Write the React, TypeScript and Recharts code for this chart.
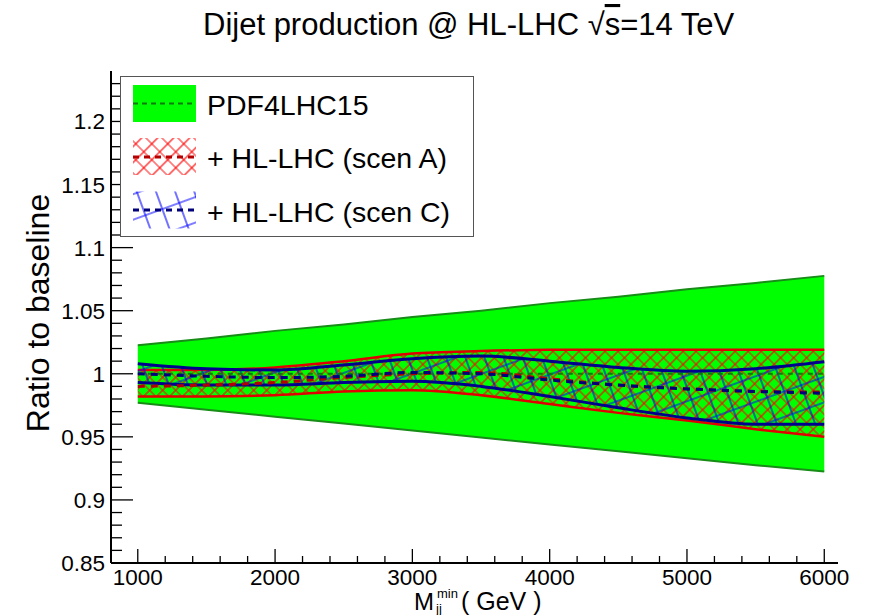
import React from 'react';
import { ComposedChart, Area, Line, XAxis, YAxis } from 'recharts';

// Dijet mass threshold (GeV)
const massPoints = [1000, 1500, 2000, 2500, 3000, 3500, 4000, 4500, 5000, 5500, 6000];
// PDF4LHC15 band
const pdfLow = [0.977, 0.9715, 0.966, 0.9605, 0.955, 0.9495, 0.944, 0.9385, 0.933, 0.9275, 0.9225];
const pdfHigh = [1.0227, 1.028, 1.034, 1.039, 1.045, 1.050, 1.056, 1.061, 1.067, 1.072, 1.0776];
const pdfCentral = [1, 1, 1, 1, 1, 1, 1, 1, 1, 1, 1];
// + HL-LHC (scen A)
const scenALow = [0.982, 0.982, 0.983, 0.986, 0.987, 0.983, 0.976, 0.969, 0.963, 0.956, 0.95];
const scenAHigh = [1.003, 1.003, 1.005, 1.01, 1.016, 1.018, 1.019, 1.019, 1.019, 1.019, 1.019];
const scenACentral = [0.99, 0.991, 0.993, 0.997, 1.0, 1.001, 0.996, 0.991, 0.988, 0.986, 0.9855];
// + HL-LHC (scen C)
const scenCLow = [0.993, 0.991, 0.991, 0.993, 0.994, 0.99, 0.982, 0.973, 0.965, 0.96, 0.96];
const scenCHigh = [1.008, 1.004, 1.003, 1.007, 1.012, 1.014, 1.01, 1.005, 1.002, 1.004, 1.0095];
const scenCCentral = [1.0, 0.998, 0.997, 0.998, 1.001, 1.0, 0.995, 0.991, 0.988, 0.986, 0.9845];

// axis ticks (major + minor)
const xTicks = [1000, 1200, 1400, 1600, 1800, 2000, 2200, 2400, 2600, 2800, 3000, 3200, 3400, 3600, 3800, 4000, 4200, 4400, 4600, 4800, 5000, 5200, 5400, 5600, 5800, 6000];
const xMajor = [1000, 2000, 3000, 4000, 5000, 6000];
const yTicks = [0.85, 0.86, 0.87, 0.88, 0.89, 0.9, 0.91, 0.92, 0.93, 0.94, 0.95, 0.96, 0.97, 0.98, 0.99, 1.0, 1.01, 1.02, 1.03, 1.04, 1.05, 1.06, 1.07, 1.08, 1.09, 1.1, 1.11, 1.12, 1.13, 1.14, 1.15, 1.16, 1.17, 1.18, 1.19, 1.2, 1.21, 1.22, 1.23];
const yMajorLabels = ['0.85', '0.9', '0.95', '1', '1.05', '1.1', '1.15', '1.2'];

const xDomain: [number, number] = [805, 6100];
const yDomain: [number, number] = [0.85, 1.24];

const rows = massPoints.map((m, i) => ({
  m,
  pdf: [pdfLow[i], pdfHigh[i]],
  pdfC: pdfCentral[i],
  scenA: [scenALow[i], scenAHigh[i]],
  aC: scenACentral[i],
  scenC: [scenCLow[i], scenCHigh[i]],
  cC: scenCCentral[i],
}));

const FONT = '"Liberation Sans", Arial, Helvetica, sans-serif';

const isYMajor = (v: number) => yMajorLabels.includes(String(parseFloat(v.toFixed(2))));

const BottomTick = (props: any) => {
  const { x, y, payload } = props;
  const major = xMajor.includes(payload.value);
  return (
    <g>
      <line x1={x} x2={x} y1={y} y2={y - (major ? 14 : 7)} stroke="#000" strokeWidth={1.3} />
      {major && (
        <text x={x} y={y + 22} textAnchor="middle" fontSize={22.5} fontFamily={FONT} fill="#000">
          {payload.value}
        </text>
      )}
    </g>
  );
};

const TopTick = (props: any) => {
  const { x, y, payload } = props;
  const major = xMajor.includes(payload.value);
  return <line x1={x} x2={x} y1={y} y2={y + (major ? 14 : 7)} stroke="#000" strokeWidth={1.3} />;
};

const LeftTick = (props: any) => {
  const { x, y, payload } = props;
  const major = isYMajor(payload.value);
  return (
    <g>
      <line x1={x} x2={x + (major ? 22 : 11)} y1={y} y2={y} stroke="#000" strokeWidth={1.3} />
      {major && (
        <text x={x - 6} y={y + 8} textAnchor="end" fontSize={22.5} fontFamily={FONT} fill="#000">
          {String(parseFloat(payload.value.toFixed(2)))}
        </text>
      )}
    </g>
  );
};

const RightTick = (props: any) => {
  const { x, y, payload } = props;
  const major = isYMajor(payload.value);
  return <line x1={x} x2={x - (major ? 22 : 11)} y1={y} y2={y} stroke="#000" strokeWidth={1.3} />;
};

export default function App() {
  const axisLine = { stroke: '#000', strokeWidth: 2 };
  return (
    <div style={{ position: 'absolute', left: 0, top: 0, width: 870, height: 615, background: '#fff' }}>
      <ComposedChart width={870} height={615} data={rows} margin={{ top: 71, right: 32, bottom: 0, left: 0 }}>
        <defs>
          <pattern id="hatchRed" patternUnits="userSpaceOnUse" width="9.2" height="9.2" patternTransform="rotate(45)">
            <path d="M0,4.6 H9.2 M4.6,0 V9.2" stroke="#ff0000" strokeWidth={1.1} fill="none" />
          </pattern>
          <pattern id="hatchBlue" patternUnits="userSpaceOnUse" width="18" height="24" patternTransform="rotate(-20)">
            <path d="M9,0 V24 M0,12 H18" stroke="#0000ff" strokeWidth={1.1} fill="none" />
          </pattern>
        </defs>
        <XAxis
          xAxisId="b"
          dataKey="m"
          type="number"
          domain={xDomain}
          allowDataOverflow
          ticks={xTicks}
          interval={0}
          tick={BottomTick}
          tickLine={false}
          tickSize={0}
          tickMargin={0}
          axisLine={axisLine}
          height={52}
        />
        <XAxis
          xAxisId="t"
          orientation="top"
          dataKey="m"
          type="number"
          domain={xDomain}
          allowDataOverflow
          ticks={xTicks}
          interval={0}
          tick={TopTick}
          tickLine={false}
          tickSize={0}
          tickMargin={0}
          axisLine={axisLine}
          height={0}
        />
        <YAxis
          yAxisId="l"
          type="number"
          domain={yDomain}
          allowDataOverflow
          ticks={yTicks}
          interval={0}
          tick={LeftTick}
          tickLine={false}
          tickSize={0}
          tickMargin={0}
          axisLine={axisLine}
          width={111}
        />
        <YAxis
          yAxisId="r"
          orientation="right"
          type="number"
          domain={yDomain}
          allowDataOverflow
          ticks={yTicks}
          interval={0}
          tick={RightTick}
          tickLine={false}
          tickSize={0}
          tickMargin={0}
          axisLine={axisLine}
          width={0}
        />
        <Area
          xAxisId="b"
          yAxisId="l"
          dataKey="pdf"
          type="linear"
          fill="#00ff00"
          fillOpacity={1}
          stroke="#178c17"
          strokeWidth={2}
          isAnimationActive={false}
          activeDot={false}
          dot={false}
        />
        <Area
          xAxisId="b"
          yAxisId="l"
          dataKey="scenA"
          type="monotone"
          fill="url(#hatchRed)"
          fillOpacity={1}
          stroke="#e00000"
          strokeWidth={2.5}
          isAnimationActive={false}
          activeDot={false}
          dot={false}
        />
        <Area
          xAxisId="b"
          yAxisId="l"
          dataKey="scenC"
          type="monotone"
          fill="url(#hatchBlue)"
          fillOpacity={1}
          stroke="#00008c"
          strokeWidth={3}
          isAnimationActive={false}
          activeDot={false}
          dot={false}
        />
        <Line
          xAxisId="b"
          yAxisId="l"
          dataKey="pdfC"
          type="linear"
          stroke="#0d7a0d"
          strokeWidth={2}
          strokeDasharray="5 5"
          dot={false}
          activeDot={false}
          isAnimationActive={false}
        />
        <Line
          xAxisId="b"
          yAxisId="l"
          dataKey="aC"
          type="monotone"
          stroke="#b40000"
          strokeWidth={3}
          strokeDasharray="7 6"
          dot={false}
          activeDot={false}
          isAnimationActive={false}
        />
        <Line
          xAxisId="b"
          yAxisId="l"
          dataKey="cC"
          type="monotone"
          stroke="#00007a"
          strokeWidth={3}
          strokeDasharray="7 6"
          dot={false}
          activeDot={false}
          isAnimationActive={false}
        />
      </ComposedChart>
      <svg
        width={870}
        height={615}
        style={{ position: 'absolute', left: 0, top: 0, pointerEvents: 'none' }}
        fontFamily={FONT}
      >
        <defs>
          <pattern id="legRed" patternUnits="userSpaceOnUse" width="11.3" height="11.3" patternTransform="rotate(45)">
            <path d="M0,5.65 H11.3 M5.65,0 V11.3" stroke="#ff0000" strokeWidth={1.1} fill="none" />
          </pattern>
          <pattern id="legBlue" patternUnits="userSpaceOnUse" width="18" height="24" patternTransform="rotate(-20)">
            <path d="M9,0 V24 M0,12 H18" stroke="#0000ff" strokeWidth={1.1} fill="none" />
          </pattern>
        </defs>
        {/* title */}
        <text x={203} y={35} fontSize={31} fill="#000">
          Dijet production @ HL-LHC  √<tspan style={{ textDecoration: 'overline' }}>s</tspan>=14 TeV
        </text>
        {/* y axis title */}
        <text x={49} y={313} fontSize={32} textAnchor="middle" transform="rotate(-90 49 313)" fill="#000">
          Ratio to baseline
        </text>
        {/* x axis title */}
        <text x={414} y={610} fontSize={24} fill="#000">M</text>
        <text x={437} y={598} fontSize={13} fill="#000">min</text>
        <text x={436} y={613} fontSize={13} fill="#000">jj</text>
        <text x={461} y={610} fontSize={25} fill="#000">( GeV )</text>
        {/* legend */}
        <rect x={120.5} y={76.5} width={353} height={160} fill="#fff" stroke="#555" strokeWidth={1} />
        <rect x={133} y={85} width={63} height={37} fill="#00ff00" />
        <line x1={133} x2={196} y1={103.5} y2={103.5} stroke="#0d7a0d" strokeWidth={2} strokeDasharray="5 4" />
        <text x={207} y={115} fontSize={28.5} fill="#000">PDF4LHC15</text>
        <rect x={133} y={138} width={63} height={37} fill="url(#legRed)" />
        <line x1={133} x2={196} y1={157} y2={157} stroke="#b40000" strokeWidth={3} strokeDasharray="6 5" />
        <text x={207} y={168} fontSize={28.5} fill="#000">+ HL-LHC (scen A)</text>
        <rect x={133} y={191.5} width={63} height={37} fill="url(#legBlue)" />
        <line x1={133} x2={196} y1={210} y2={210} stroke="#00007a" strokeWidth={3} strokeDasharray="6 5" />
        <text x={207} y={222} fontSize={28.5} fill="#000">+ HL-LHC (scen C)</text>
      </svg>
    </div>
  );
}
